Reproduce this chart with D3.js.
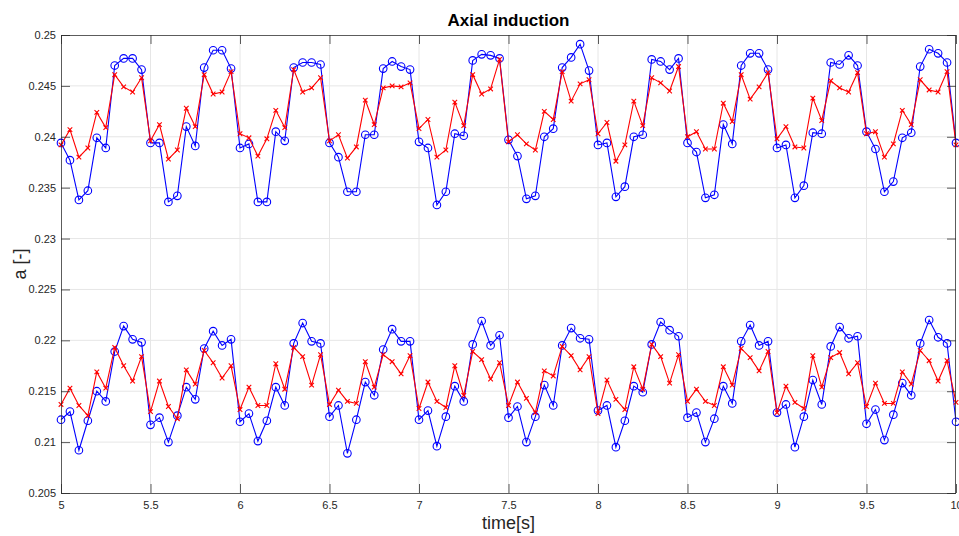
<!DOCTYPE html>
<html>
<head>
<meta charset="utf-8">
<script src="https://cdn.jsdelivr.net/npm/d3@7"></script>
<style>
  html, body { margin: 0; padding: 0; background: #fff; }
  svg { display: block; font-family: "Liberation Sans", Arial, Helvetica, sans-serif; }
</style>
</head>
<body>
<svg id="chart" width="959" height="536"></svg>
<script>
// Sample times: 5 s to 10 s every 0.05 s
const timeStart = 5, timeStep = 0.05, sampleCount = 101;

// Axial induction, outer section (blue circles / red crosses)
const blueUpper = [
  0.2394,0.2377,0.2338,0.2347,0.2399,0.2389,0.2470,0.2477,0.2477,0.2466,
  0.2394,0.2394,0.2336,0.2342,0.2410,0.2391,0.2468,0.2485,0.2485,0.2467,
  0.2389,0.2393,0.2336,0.2336,0.2405,0.2396,0.2468,0.2473,0.2473,0.2471,
  0.2394,0.2380,0.2346,0.2346,0.2402,0.2402,0.2467,0.2474,0.2469,0.2466,
  0.2395,0.2389,0.2333,0.2346,0.2403,0.2401,0.2475,0.2481,0.2480,0.2477,
  0.2397,0.2381,0.2339,0.2342,0.2400,0.2408,0.2468,0.2478,0.2491,0.2465,
  0.2392,0.2394,0.2341,0.2351,0.2400,0.2402,0.2476,0.2474,0.2466,0.2477,
  0.2394,0.2385,0.2340,0.2343,0.2412,0.2393,0.2470,0.2482,0.2482,0.2466,
  0.2389,0.2392,0.2340,0.2352,0.2404,0.2403,0.2473,0.2471,0.2480,0.2470,
  0.2405,0.2388,0.2346,0.2356,0.2399,0.2404,0.2469,0.2486,0.2482,0.2473,
  0.2394
];
const redUpper = [
  0.2392,0.2407,0.2380,0.2389,0.2424,0.2409,0.2461,0.2449,0.2444,0.2458,
  0.2396,0.2412,0.2378,0.2387,0.2428,0.2410,0.2461,0.2442,0.2444,0.2464,
  0.2403,0.2399,0.2381,0.2398,0.2426,0.2409,0.2466,0.2444,0.2448,0.2458,
  0.2396,0.2402,0.2379,0.2390,0.2436,0.2412,0.2448,0.2450,0.2449,0.2453,
  0.2408,0.2417,0.2380,0.2387,0.2434,0.2411,0.2461,0.2442,0.2447,0.2476,
  0.2395,0.2402,0.2393,0.2387,0.2425,0.2417,0.2464,0.2435,0.2452,0.2456,
  0.2403,0.2414,0.2376,0.2392,0.2435,0.2411,0.2458,0.2453,0.2445,0.2469,
  0.2400,0.2405,0.2388,0.2388,0.2433,0.2415,0.2461,0.2437,0.2449,0.2463,
  0.2398,0.2410,0.2390,0.2389,0.2438,0.2416,0.2455,0.2448,0.2444,0.2463,
  0.2403,0.2405,0.2380,0.2393,0.2426,0.2412,0.2456,0.2446,0.2444,0.2464,
  0.2392
];

// Axial induction, inner section
const blueLower = [
  0.2122,0.2130,0.2092,0.2121,0.2150,0.2140,0.2189,0.2214,0.2201,0.2198,
  0.2117,0.2124,0.2100,0.2126,0.2154,0.2142,0.2192,0.2209,0.2195,0.2201,
  0.2120,0.2128,0.2101,0.2121,0.2154,0.2136,0.2197,0.2217,0.2199,0.2197,
  0.2125,0.2136,0.2089,0.2122,0.2159,0.2146,0.2191,0.2211,0.2199,0.2199,
  0.2122,0.2131,0.2096,0.2125,0.2155,0.2140,0.2196,0.2219,0.2195,0.2205,
  0.2124,0.2135,0.2100,0.2125,0.2156,0.2136,0.2195,0.2212,0.2202,0.2201,
  0.2131,0.2136,0.2095,0.2121,0.2155,0.2149,0.2196,0.2218,0.2210,0.2204,
  0.2124,0.2129,0.2100,0.2123,0.2155,0.2138,0.2199,0.2215,0.2195,0.2199,
  0.2129,0.2137,0.2095,0.2125,0.2161,0.2137,0.2194,0.2213,0.2202,0.2204,
  0.2118,0.2132,0.2102,0.2127,0.2158,0.2146,0.2197,0.2220,0.2203,0.2197,
  0.2120
];
const redLower = [
  0.2137,0.2153,0.2136,0.2126,0.2169,0.2153,0.2193,0.2175,0.2160,0.2184,
  0.2130,0.2160,0.2135,0.2123,0.2171,0.2157,0.2190,0.2178,0.2163,0.2175,
  0.2132,0.2154,0.2136,0.2136,0.2177,0.2152,0.2193,0.2184,0.2156,0.2186,
  0.2137,0.2151,0.2140,0.2138,0.2179,0.2154,0.2186,0.2179,0.2167,0.2185,
  0.2133,0.2159,0.2140,0.2134,0.2175,0.2146,0.2189,0.2181,0.2162,0.2178,
  0.2136,0.2159,0.2143,0.2129,0.2170,0.2165,0.2194,0.2185,0.2171,0.2184,
  0.2128,0.2161,0.2142,0.2132,0.2174,0.2152,0.2196,0.2184,0.2158,0.2186,
  0.2140,0.2152,0.2140,0.2136,0.2174,0.2156,0.2192,0.2183,0.2170,0.2189,
  0.2129,0.2155,0.2139,0.2133,0.2185,0.2154,0.2183,0.2188,0.2167,0.2178,
  0.2135,0.2158,0.2138,0.2138,0.2169,0.2157,0.2190,0.2180,0.2160,0.2180,
  0.2139
];

// Axis ticks
const xTicks = [5, 5.5, 6, 6.5, 7, 7.5, 8, 8.5, 9, 9.5, 10];
const xTickLabels = ["5","5.5","6","6.5","7","7.5","8","8.5","9","9.5","10"];
const yTicks = [0.205,0.21,0.215,0.22,0.225,0.23,0.235,0.24,0.245,0.25];
const yTickLabels = ["0.205","0.21","0.215","0.22","0.225","0.23","0.235","0.24","0.245","0.25"];

const times = d3.range(sampleCount).map(i => +(timeStart + i * timeStep).toFixed(2));

const W = 959, H = 536;
const m = { left: 61, right: 3, top: 35, bottom: 43 };
const svg = d3.select("#chart");

const x = d3.scaleLinear().domain([5, 10]).range([m.left, W - m.right]);
const y = d3.scaleLinear().domain([0.205, 0.25]).range([H - m.bottom, m.top]);

const axisColor = "#262626";
const tickLen = 9;

// grid
const grid = svg.append("g");
grid.selectAll("line.gx").data(xTicks.slice(1, -1)).join("line")
  .attr("x1", d => x(d)).attr("x2", d => x(d))
  .attr("y1", y(0.205)).attr("y2", y(0.25))
  .attr("stroke", "#e6e6e6").attr("stroke-width", 1);
grid.selectAll("line.gy").data(yTicks.slice(1, -1)).join("line")
  .attr("x1", x(5)).attr("x2", x(10))
  .attr("y1", d => y(d)).attr("y2", d => y(d))
  .attr("stroke", "#e6e6e6").attr("stroke-width", 1);

// series
const series = [
  { values: redUpper, color: "#ff0000", marker: "x" },
  { values: blueUpper, color: "#0000ff", marker: "o" },
  { values: redLower, color: "#ff0000", marker: "x" },
  { values: blueLower, color: "#0000ff", marker: "o" }
];
// blue first, red drawn over it
const order = [series[1], series[0], series[3], series[2]];
const line = d3.line().x((d, i) => x(times[i])).y(d => y(d));

order.forEach(s => {
  const g = svg.append("g");
  g.append("path").datum(s.values)
    .attr("d", line).attr("fill", "none")
    .attr("stroke", s.color).attr("stroke-width", 1.1);
  if (s.marker === "o") {
    g.selectAll("circle").data(s.values).join("circle")
      .attr("cx", (d, i) => x(times[i])).attr("cy", d => y(d))
      .attr("r", 3.8).attr("fill", "none")
      .attr("stroke", s.color).attr("stroke-width", 1.1);
  } else {
    const r = 2.3;
    g.selectAll("path.mk").data(s.values).join("path")
      .attr("class", "mk")
      .attr("d", (d, i) => {
        const cx = x(times[i]), cy = y(d);
        return `M${cx - r},${cy - r}L${cx + r},${cy + r}M${cx - r},${cy + r}L${cx + r},${cy - r}`;
      })
      .attr("stroke", s.color).attr("stroke-width", 1.1);
  }
});

// box and ticks
const frame = svg.append("g");
frame.append("rect")
  .attr("x", x(5) + 0.5).attr("y", y(0.25) + 0.5)
  .attr("width", x(10) - x(5) - 1).attr("height", y(0.205) - y(0.25))
  .attr("fill", "none").attr("stroke", axisColor).attr("stroke-opacity", 0.75).attr("stroke-width", 1);

const xAxisB = d3.axisBottom(x).tickValues(xTicks)
  .tickFormat((d, i) => xTickLabels[i]).tickSizeInner(-tickLen).tickSizeOuter(0).tickPadding(8);
const xAxisT = d3.axisTop(x).tickValues(xTicks).tickFormat("").tickSizeInner(-tickLen).tickSizeOuter(0);
const yAxisL = d3.axisLeft(y).tickValues(yTicks)
  .tickFormat((d, i) => yTickLabels[i]).tickSizeInner(-tickLen).tickSizeOuter(0).tickPadding(5);
const yAxisR = d3.axisRight(y).tickValues(yTicks).tickFormat("").tickSizeInner(-tickLen).tickSizeOuter(0);

function styleAxis(g) {
  g.select(".domain").remove();
  g.selectAll(".tick line").attr("stroke", axisColor).attr("stroke-opacity", 0.75);
  g.selectAll(".tick text").attr("fill", axisColor).attr("font-size", 11);
}
frame.append("g").attr("transform", `translate(0,${y(0.205)})`).call(xAxisB).call(styleAxis);
frame.append("g").attr("transform", `translate(0,${y(0.25)})`).call(xAxisT).call(styleAxis);
frame.append("g").attr("transform", `translate(${x(5)},0)`).call(yAxisL).call(styleAxis);
frame.append("g").attr("transform", `translate(${x(10)},0)`).call(yAxisR).call(styleAxis);

// titles
svg.append("text")
  .attr("x", (x(5) + x(10)) / 2).attr("y", 26)
  .attr("text-anchor", "middle").attr("font-size", 17).attr("font-weight", "bold")
  .attr("fill", "#000").text("Axial induction");
svg.append("text")
  .attr("x", (x(5) + x(10)) / 2).attr("y", 529)
  .attr("text-anchor", "middle").attr("font-size", 18)
  .attr("fill", axisColor).text("time[s]");
svg.append("text")
  .attr("transform", `translate(26,${(y(0.205) + y(0.25)) / 2}) rotate(-90)`)
  .attr("text-anchor", "middle").attr("font-size", 18)
  .attr("fill", axisColor).text("a [-]");
</script>
</body>
</html>
